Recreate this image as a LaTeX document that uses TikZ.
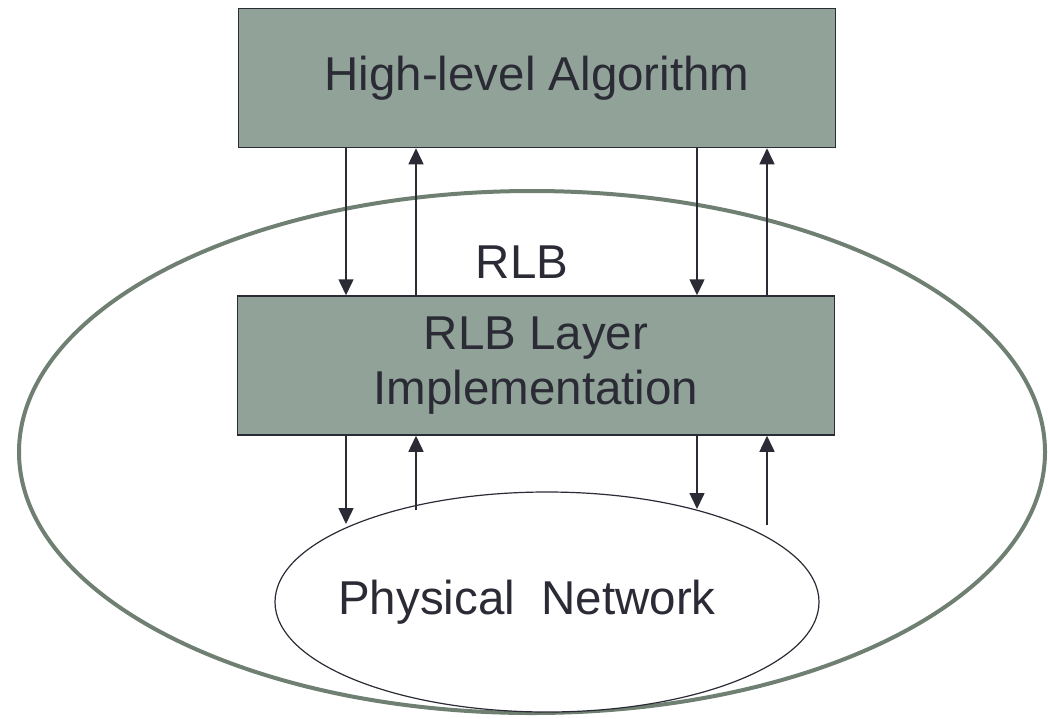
\documentclass[tikz,border=0pt]{standalone}
\usepackage{fontspec}
\setmainfont{Liberation Sans}
\usetikzlibrary{arrows.meta,shapes.geometric}
\definecolor{boxfill}{HTML}{91A398}
\definecolor{boxline}{HTML}{2B2B36}
\definecolor{ringline}{HTML}{6F7F72}
\begin{document}
\begin{tikzpicture}[x=1pt,y=-1pt,
  layerbox/.style={draw=boxline,line width=1.5pt,fill=boxfill,minimum width=597pt,minimum height=139pt,inner sep=0pt,text=boxline,font=\fontsize{47.5}{55}\selectfont,align=center},
  arr/.style={draw=boxline,line width=1.5pt,-{Triangle[length=16pt,width=15pt]}},
  lbl/.style={text=boxline,font=\fontsize{47.5}{55}\selectfont}]
\useasboundingbox (0,0) rectangle (1048,718);
\node[draw=ringline,line width=4pt,ellipse,minimum width=1026pt,minimum height=522pt,inner sep=0pt] (rlb) at (532,452) {};
\node[draw=boxline,line width=1.2pt,ellipse,fill=white,minimum width=544pt,minimum height=220pt,inner sep=0pt] (net) at (547,602) {};
\node[lbl] (netlbl) at (527,602) {Physical\ \ Network};
\node[layerbox] (top) at (537,78) {High-level Algorithm};
\node[layerbox] (mid) at (536,365.5) {RLB Layer\\Implementation};
\node[lbl] (rlblbl) at (522,262) {RLB};
\coordinate (a1) at (346,0);
\coordinate (a2) at (416,0);
\coordinate (a3) at (697,0);
\coordinate (a4) at (767,0);
\coordinate (e1) at (346,524);
\coordinate (e2) at (416,510);
\coordinate (e3) at (697,509);
\coordinate (e4) at (767,525);
\draw[arr] (top.south -| a1) -- (mid.north -| a1);
\draw[arr] (mid.north -| a2) -- (top.south -| a2);
\draw[arr] (top.south -| a3) -- (mid.north -| a3);
\draw[arr] (mid.north -| a4) -- (top.south -| a4);
\draw[arr] (mid.south -| a1) -- (e1);
\draw[arr] (e2) -- (mid.south -| a2);
\draw[arr] (mid.south -| a3) -- (e3);
\draw[arr] (e4) -- (mid.south -| a4);
\end{tikzpicture}
\end{document}
